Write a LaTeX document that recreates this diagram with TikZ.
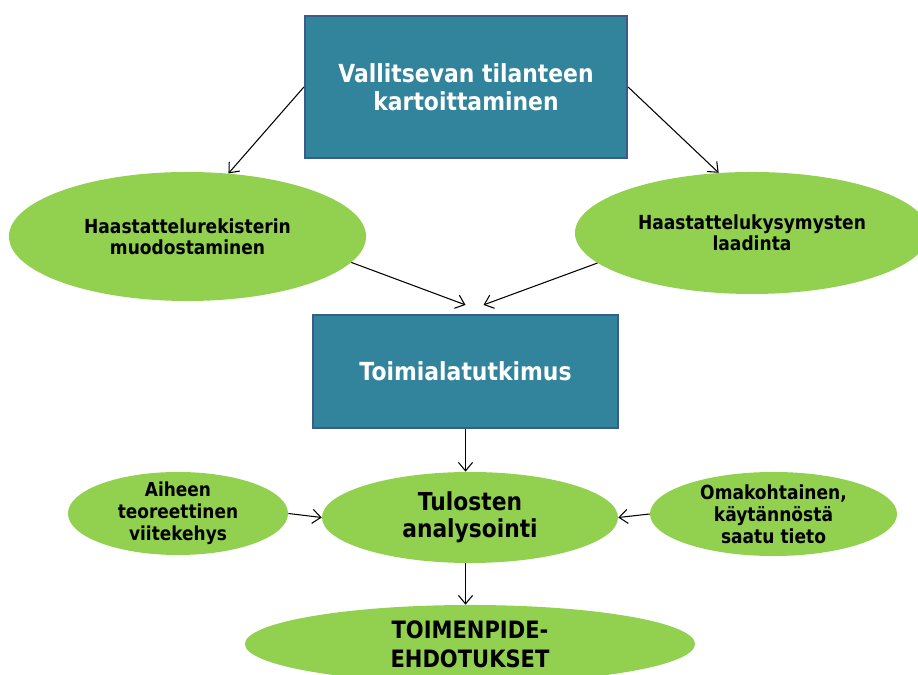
\documentclass[tikz,border=0pt]{standalone}
\usepackage{fontspec}
\setmainfont{DejaVu Sans}[FakeStretch=0.88]
\usetikzlibrary{shapes.geometric,arrows.meta}
\definecolor{phaseteal}{RGB}{49,132,155}
\definecolor{phaseedge}{RGB}{56,93,138}
\definecolor{taskgreen}{RGB}{146,208,80}

\begin{document}
\begin{tikzpicture}[x=0.025cm,y=0.025cm,
  phasebox/.style={rectangle,fill=phaseteal,draw=phaseedge,line width=1.5pt,text=white,align=center,inner sep=0pt},
  task/.style={ellipse,fill=taskgreen,align=center,inner sep=-4pt},
  flow/.style={-{Straight Barb[length=6pt,width=10pt]},line width=0.75pt}]
\useasboundingbox (0,0) rectangle (918,675);
\node[phasebox,minimum width=8.05cm,minimum height=3.55cm,font=\fontsize{17.7}{20}\selectfont\bfseries] (kartoitus) at (466,588) {Vallitsevan tilanteen\\kartoittaminen};
\node[task,minimum width=8.925cm,minimum height=3.225cm,font=\fontsize{13.8}{15}\selectfont\bfseries] (rekisteri) at (187.5,438.5) {Haastattelurekisterin\\muodostaminen};
\node[task,minimum width=8.85cm,minimum height=3.05cm,font=\fontsize{13.8}{15}\selectfont\bfseries] (kysymykset) at (752,442) {Haastattelukysymysten\\laadinta};
\node[phasebox,minimum width=7.625cm,minimum height=2.825cm,font=\fontsize{17.7}{20}\selectfont\bfseries] (toimiala) at (465.5,303.5) {Toimialatutkimus};
\node[task,minimum width=7.4cm,minimum height=2.275cm,font=\fontsize{17.6}{19.2}\selectfont\bfseries] (analyysi) at (470,157.5) {Tulosten\\analysointi};
\node[task,minimum width=5.5cm,minimum height=2.075cm,font=\fontsize{13.7}{15.6}\selectfont\bfseries] (teoria) at (178,161.5) {Aiheen\\teoreettinen\\viitekehys};
\node[task,minimum width=6.175cm,minimum height=2.1cm,font=\fontsize{13.8}{15.6}\selectfont\bfseries] (kokemus) at (773.5,161) {Omakohtainen,\\käytännöstä\\saatu tieto};
\node[task,minimum width=11.25cm,minimum height=1.95cm,font=\fontsize{17}{20.6}\selectfont\bfseries] (ehdotukset) at (470,31) {TOIMENPIDE-\\EHDOTUKSET};

\draw[flow] (kartoitus.west) -- (rekisteri.57);
\draw[flow] (kartoitus.east) -- (kysymykset.119);
\draw[flow] (rekisteri.-9) -- ([yshift=0.225cm]toimiala.north);
\draw[flow] (kysymykset.191) -- ([xshift=0.45cm,yshift=0.225cm]toimiala.north);
\draw[flow] (toimiala.south) -- (toimiala.south |- analyysi.north);
\draw[flow] (teoria.east) -- (analyysi.west);
\draw[flow] (kokemus.west) -- (analyysi.east);
\draw[flow] (toimiala.south |- analyysi.south) -- (toimiala.south |- ehdotukset.north);
\end{tikzpicture}
\end{document}
